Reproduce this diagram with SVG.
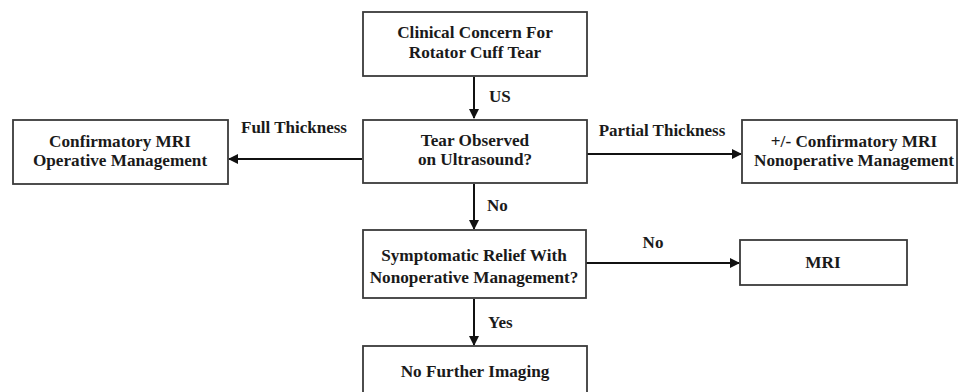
<svg xmlns="http://www.w3.org/2000/svg" width="959" height="392" viewBox="0 0 959 392">
<defs>
<marker id="ah" markerWidth="10" markerHeight="10" refX="9" refY="5" orient="auto" markerUnits="userSpaceOnUse">
<path d="M0,0 L10,5 L0,10 Z" fill="#111"/>
</marker>
<style>
.box{fill:#fff;stroke:#3a3a3a;stroke-width:1.8}
.t{font-family:"Liberation Serif","Times New Roman",serif;font-weight:bold;font-size:17.2px;fill:#1a1a1a;text-anchor:middle}
.lbl{font-family:"Liberation Serif","Times New Roman",serif;font-weight:bold;font-size:17px;fill:#1a1a1a}
.c{stroke:#111;stroke-width:2;fill:none;marker-end:url(#ah)}
</style>
</defs>
<rect width="959" height="392" fill="#fff"/>
<g id="connectors">
<line class="c" x1="474" y1="77" x2="474" y2="118"/>
<line class="c" x1="362" y1="159" x2="229" y2="159"/>
<line class="c" x1="587" y1="154" x2="741" y2="154"/>
<line class="c" x1="474" y1="184" x2="474" y2="229"/>
<line class="c" x1="586" y1="263" x2="739" y2="263"/>
<line class="c" x1="474" y1="299" x2="474" y2="345"/>
<text class="lbl" x="489" y="102">US</text>
<text class="lbl" x="294" y="133" text-anchor="middle">Full Thickness</text>
<text class="lbl" x="662" y="136" text-anchor="middle">Partial Thickness</text>
<text class="lbl" x="487" y="211">No</text>
<text class="lbl" x="653" y="248" text-anchor="middle">No</text>
<text class="lbl" x="488" y="328">Yes</text>
</g>
<g id="n-clinical">
<rect class="box" x="363" y="12" width="224" height="64"/>
<text class="t" x="475" y="38">Clinical Concern For</text>
<text class="t" x="475" y="58">Rotator Cuff Tear</text>
</g>
<g id="n-tear">
<rect class="box" x="363" y="120" width="224" height="63"/>
<text class="t" x="475" y="146">Tear Observed</text>
<text class="t" x="475" y="165">on Ultrasound?</text>
</g>
<g id="n-full">
<rect class="box" x="13" y="120" width="215" height="64"/>
<text class="t" x="120" y="147">Confirmatory MRI</text>
<text class="t" x="120" y="166">Operative Management</text>
</g>
<g id="n-partial">
<rect class="box" x="742" y="120" width="215" height="63"/>
<text class="t" x="854" y="147">+/- Confirmatory MRI</text>
<text class="t" x="854" y="166">Nonoperative Management</text>
</g>
<g id="n-symptom">
<rect class="box" x="363" y="230" width="223" height="68"/>
<text class="t" x="474" y="261">Symptomatic Relief With</text>
<text class="t" x="474" y="283">Nonoperative Management?</text>
</g>
<g id="n-mri">
<rect class="box" x="740" y="240" width="167" height="45"/>
<text class="t" x="823" y="268">MRI</text>
</g>
<g id="n-none">
<rect class="box" x="363" y="346" width="224" height="60"/>
<text class="t" x="475" y="377">No Further Imaging</text>
</g>
</svg>
